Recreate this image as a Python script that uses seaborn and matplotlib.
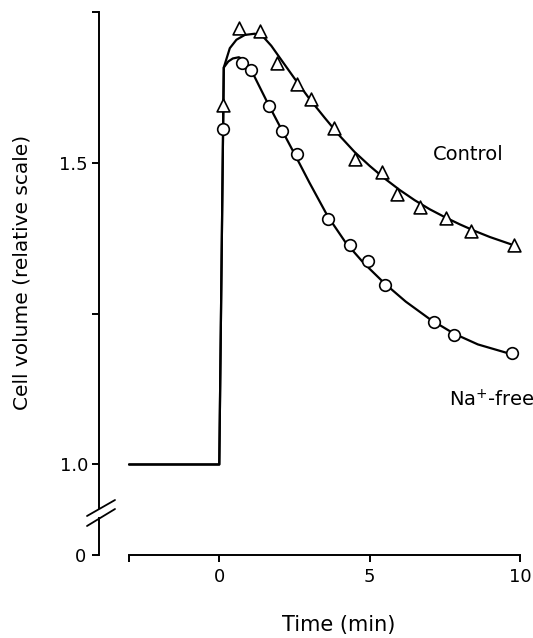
import matplotlib
matplotlib.use("Agg")
import matplotlib.pyplot as plt
import seaborn as sns
from matplotlib.lines import Line2D

sns.set_style("ticks", {"axes.edgecolor": "black", "text.color": "black",
                        "axes.labelcolor": "black", "xtick.color": "black",
                        "ytick.color": "black"})
plt.rcParams['font.family'] = ['DejaVu Sans']

# measured points (time in min, relative cell volume)
ctrl_t = [0.13, 0.66, 1.35, 1.93, 2.60, 3.04, 3.81, 4.50, 5.41, 5.91, 6.68, 7.55, 8.37, 9.79]
ctrl_v = [1.596, 1.724, 1.719, 1.665, 1.631, 1.606, 1.557, 1.506, 1.484, 1.448, 1.427, 1.408, 1.387, 1.363]

nafree_t = [0.11, 0.74, 1.05, 1.64, 2.07, 2.60, 3.61, 4.34, 4.93, 5.51, 7.15, 7.82, 9.74]
nafree_v = [1.556, 1.665, 1.654, 1.594, 1.553, 1.514, 1.407, 1.364, 1.337, 1.298, 1.236, 1.214, 1.184]

# fitted curves as drawn (baseline, step, decay)
ctrl_curve_t = [-3.0, 0.0, 0.15, 0.35, 0.57, 0.85, 1.18, 1.46, 1.73, 2.0, 2.5, 3.0, 3.5, 4.0,
                4.5, 5.0, 5.5, 6.0, 6.5, 7.0, 7.5, 8.0, 8.5, 9.0, 9.7]
ctrl_curve_v = [1.0, 1.0, 1.658, 1.690, 1.704, 1.712, 1.714, 1.709, 1.694, 1.675, 1.640, 1.606,
                1.575, 1.545, 1.518, 1.495, 1.474, 1.455, 1.438, 1.423, 1.410, 1.398, 1.387,
                1.377, 1.365]

nafree_curve_t = [-3.0, 0.0, 0.15, 0.30, 0.45, 0.65, 0.85, 1.05, 1.3, 1.6, 2.0, 2.5, 3.0, 3.6,
                  4.2, 4.8, 5.5, 6.2, 7.0, 7.8, 8.6, 9.7]
nafree_curve_v = [1.0, 1.0, 1.658, 1.668, 1.673, 1.675, 1.670, 1.655, 1.630, 1.600, 1.562, 1.515,
                  1.467, 1.412, 1.368, 1.334, 1.300, 1.270, 1.241, 1.217, 1.199, 1.183]

x_ticks = [-3, 0, 5, 10]
x_labels = ['', '0', '5', '10']
y_ticks = [1.0, 1.25, 1.5, 1.75]
y_labels = ['1.0', '', '1.5', '']

W, H = 533, 638
fig = plt.figure(figsize=(W / 100, H / 100), dpi=100)
ax = fig.add_axes([99 / W, (H - 508) / H, 430 / W, 496 / H])
ax_b = fig.add_axes([99 / W, (H - 555) / H, 430 / W, 37 / H])

lw = 1.6
sns.lineplot(x=ctrl_curve_t, y=ctrl_curve_v, ax=ax, color='black', linewidth=lw,
             sort=False, estimator=None)
sns.lineplot(x=nafree_curve_t, y=nafree_curve_v, ax=ax, color='black', linewidth=lw,
             sort=False, estimator=None)
sns.scatterplot(x=ctrl_t, y=ctrl_v, ax=ax, marker='^', s=85, color='white',
                edgecolor='black', linewidth=1.2, zorder=3)
sns.scatterplot(x=nafree_t, y=nafree_v, ax=ax, marker='o', s=70, color='white',
                edgecolor='black', linewidth=1.2, zorder=3)

ax.set_xlim(-4.0, 10.3)
ax.set_ylim(1 - 43.5 / 603, 1.75)
ax.set_yticks(y_ticks)
ax.set_yticklabels(y_labels)
ax.set_xticks([])
sns.despine(ax=ax, bottom=True)
ax.spines['left'].set_linewidth(1.4)
ax.tick_params(axis='y', direction='out', length=5, width=1.4, labelsize=13, pad=3)

ax_b.set_xlim(-4.0, 10.3)
ax_b.set_ylim(0, 1)
ax_b.set_yticks([0])
ax_b.set_yticklabels(['0'])
ax_b.set_xticks(x_ticks)
ax_b.set_xticklabels(x_labels)
sns.despine(ax=ax_b)
ax_b.spines['bottom'].set_bounds(-3, 10)
for s in ['left', 'bottom']:
    ax_b.spines[s].set_linewidth(1.4)
ax_b.tick_params(axis='both', direction='out', length=5, width=1.4, labelsize=13, pad=4)
ax_b.patch.set_alpha(0)

ax.text(8.29, 1.513, 'Control', fontsize=14, ha='center', va='center')
ax.text(9.06, 1.107, 'Na$^{+}$-free', fontsize=14, ha='center', va='center')

ax.set_ylabel('Cell volume (relative scale)', fontsize=14.5)
ax.yaxis.label.set_va('center')
ax.yaxis.set_label_coords((22 - 99) / 430, (508 - 272) / 496)
ax_b.set_xlabel('Time (min)', fontsize=15)
ax_b.xaxis.label.set_va('center')
ax_b.xaxis.set_label_coords((339 - 99) / 430, (555 - 625) / 37)

# axis break marks
for y0, y1 in [(516, 500), (526, 509)]:
    fig.add_artist(Line2D([87 / W, 115 / W], [(H - y0) / H, (H - y1) / H],
                          color='black', linewidth=1.3, transform=fig.transFigure))

fig.savefig('out.png', dpi=100)
